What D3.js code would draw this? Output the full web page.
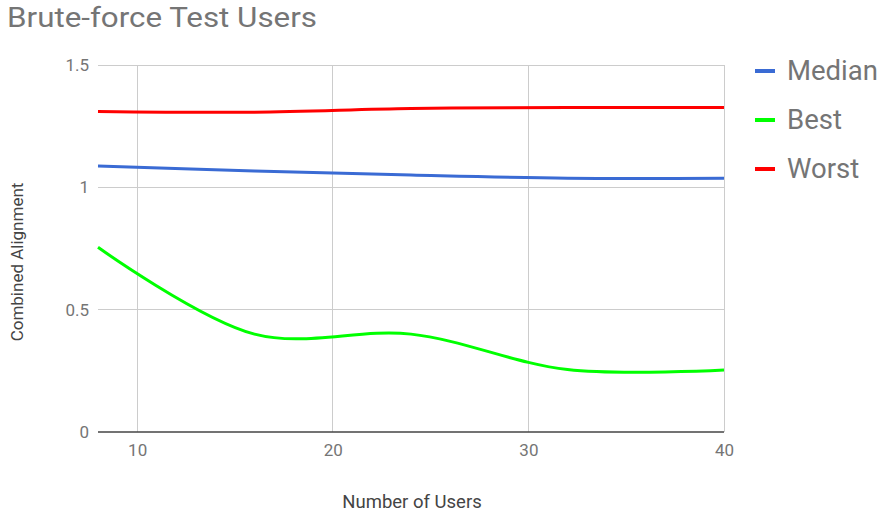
<!DOCTYPE html>
<html>
<head>
<meta charset="utf-8">
<script src="https://cdn.jsdelivr.net/npm/d3@7"></script>
<style>
  html, body { margin: 0; padding: 0; background: #fff; }
  svg { display: block; font-family: Roboto, "Noto Sans", sans-serif; }
</style>
</head>
<body>
<svg id="chart" width="884" height="517"></svg>
<script>
// Number of test users sampled
const users = [8, 16, 24, 32, 40];
// Combined alignment per run
const median = [1.087, 1.067, 1.050, 1.037, 1.037];
const best = [0.755, 0.400, 0.400, 0.255, 0.253];
const worst = [1.310, 1.307, 1.322, 1.326, 1.326];

const xTicks = [10, 20, 30, 40];
const yTicks = [0, 0.5, 1, 1.5];
const yTickLabels = ["0", "0.5", "1", "1.5"];

const seriesNames = ["Median", "Best", "Worst"];
const seriesValues = [median, best, worst];
const seriesColors = ["#3a6bd4", "#00ff00", "#ff0000"];

const svg = d3.select("#chart");
const plot = { left: 98, right: 724, top: 65, bottom: 432 };

const x = d3.scaleLinear().domain([8, 40]).range([plot.left, plot.right]);
const y = d3.scaleLinear().domain([0, 1.5]).range([plot.bottom, plot.top]);

// Title
svg.append("text")
  .attr("x", 7).attr("y", 27)
  .attr("font-size", 28).attr("fill", "#757575")
  .attr("textLength", 310).attr("lengthAdjust", "spacingAndGlyphs")
  .text("Brute-force Test Users");

// Horizontal gridlines
svg.append("g")
  .selectAll("line")
  .data(yTicks.filter(d => d !== 0))
  .join("line")
  .attr("x1", plot.left).attr("x2", plot.right)
  .attr("y1", d => y(d)).attr("y2", d => y(d))
  .attr("stroke", "#cccccc").attr("stroke-width", 1)
  .attr("shape-rendering", "crispEdges");

// Vertical gridlines
svg.append("g")
  .selectAll("line")
  .data(xTicks)
  .join("line")
  .attr("x1", d => x(d)).attr("x2", d => x(d))
  .attr("y1", plot.top).attr("y2", plot.bottom)
  .attr("stroke", "#cccccc").attr("stroke-width", 1)
  .attr("shape-rendering", "crispEdges");

// Baseline at zero
svg.append("line")
  .attr("x1", plot.left).attr("x2", plot.right)
  .attr("y1", y(0)).attr("y2", y(0))
  .attr("stroke", "#444444").attr("stroke-width", 1.5);

// Y axis labels
const yAxis = d3.axisLeft(y)
  .tickValues(yTicks)
  .tickFormat((d, i) => yTickLabels[i])
  .tickSize(0).tickPadding(9);
const gy = svg.append("g").attr("transform", `translate(${plot.left},0)`).call(yAxis);
gy.select(".domain").remove();
gy.selectAll("text").attr("font-size", 17).attr("fill", "#757575")
  .attr("font-family", "Roboto, sans-serif");

// X axis labels
const xAxis = d3.axisBottom(x).tickValues(xTicks).tickFormat(d3.format("d"))
  .tickSize(0).tickPadding(12);
const gx = svg.append("g").attr("transform", `translate(0,${plot.bottom})`).call(xAxis);
gx.select(".domain").remove();
gx.selectAll("text").attr("font-size", 17).attr("fill", "#757575")
  .attr("font-family", "Roboto, sans-serif");

// Axis titles
svg.append("text")
  .attr("x", (plot.left + plot.right) / 2 + 1).attr("y", 508)
  .attr("text-anchor", "middle")
  .attr("font-size", 18.5).attr("fill", "#444444")
  .text("Number of Users");

svg.append("text")
  .attr("transform", "translate(23,262) rotate(-90)")
  .attr("text-anchor", "middle")
  .attr("font-size", 17).attr("fill", "#444444")
  .text("Combined Alignment");

// Series lines
const line = d3.line()
  .x(d => x(d[0]))
  .y(d => y(d[1]))
  .curve(d3.curveCatmullRom.alpha(0.5));

svg.append("g")
  .selectAll("path")
  .data(seriesValues)
  .join("path")
  .attr("d", vals => line(users.map((u, i) => [u, vals[i]])))
  .attr("fill", "none")
  .attr("stroke", (d, i) => seriesColors[i])
  .attr("stroke-width", 3)
  .attr("stroke-linejoin", "round");

// Legend
const legend = svg.append("g")
  .selectAll("g")
  .data(seriesNames)
  .join("g")
  .attr("transform", (d, i) => `translate(755,${71 + i * 49})`);
legend.append("line")
  .attr("x1", 0).attr("x2", 20).attr("y1", 0).attr("y2", 0)
  .attr("stroke", (d, i) => seriesColors[i]).attr("stroke-width", 4);
legend.append("text")
  .attr("x", 32).attr("y", 9)
  .attr("font-size", 27.5).attr("fill", "#757575")
  .text(d => d);
</script>
</body>
</html>
